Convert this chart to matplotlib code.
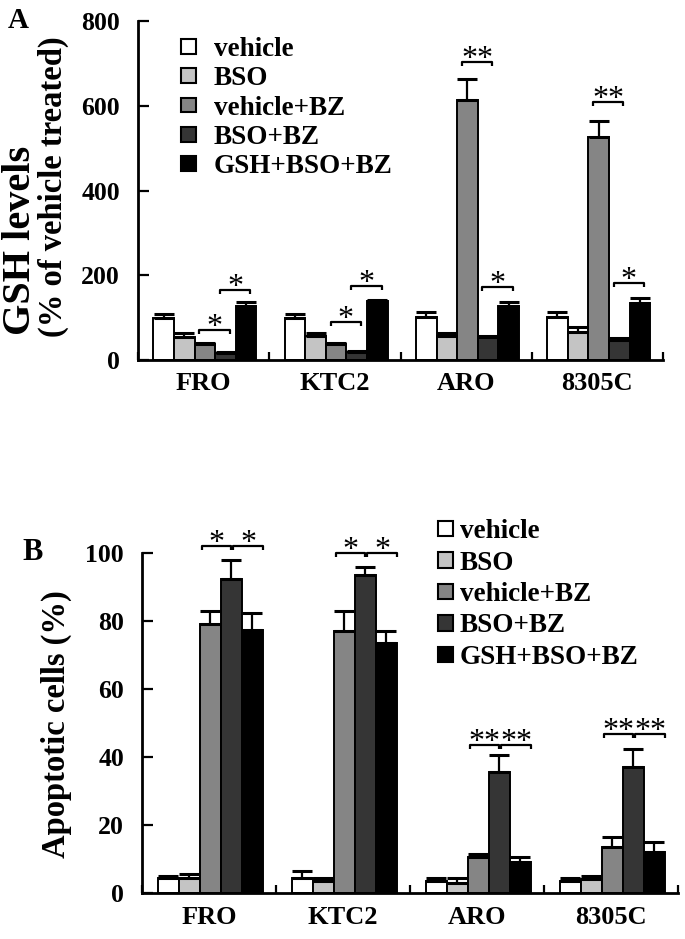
import matplotlib
matplotlib.use("Agg")
import matplotlib.pyplot as plt
from matplotlib.patches import Patch
import numpy as np

plt.rcParams['font.family'] = ['Liberation Serif', 'DejaVu Serif']
plt.rcParams['font.weight'] = 'bold'

# ---------------- data ----------------
cell_lines = ['FRO', 'KTC2', 'ARO', '8305C']
treatments = ['vehicle', 'BSO', 'vehicle+BZ', 'BSO+BZ', 'GSH+BSO+BZ']
colors = ['#ffffff', '#c4c4c4', '#858585', '#353535', '#000000']

# Panel A: GSH levels (% of vehicle treated)
gsh_vehicle = [100, 100, 101, 101]
gsh_vehicle_err = [8, 8, 12, 12]
gsh_bso = [54, 57, 57, 67]
gsh_bso_err = [10, 6, 7, 10]
gsh_vehbz = [38, 37, 613, 527]
gsh_vehbz_err = [3, 3, 50, 36]
gsh_bsobz = [16, 20, 54, 47]
gsh_bsobz_err = [2, 2, 2, 5]
gsh_gsh = [127, 139, 127, 135]
gsh_gsh_err = [10, 2, 10, 12]

# Panel B: apoptotic cells (%)
apo_vehicle = [4.5, 4.5, 3.5, 3.5]
apo_vehicle_err = [0.5, 2, 1, 1]
apo_bso = [4.5, 3.5, 3, 4]
apo_bso_err = [1, 1, 1.5, 1]
apo_vehbz = [79, 77, 10.5, 13.5]
apo_vehbz_err = [4, 6, 1, 3]
apo_bsobz = [92.5, 93.5, 35.5, 37]
apo_bsobz_err = [5.5, 2.5, 5, 5.5]
apo_gsh = [77.5, 73.5, 9, 12]
apo_gsh_err = [5, 3.5, 1.5, 3]

# significance brackets: (group, bar_i, bar_j, y, label)
sig_A = [(0, 2, 3, 71, '*'), (0, 3, 4, 165, '*'),
         (1, 2, 3, 90, '*'), (1, 3, 4, 175, '*'),
         (2, 2, 3, 703, '**'), (2, 3, 4, 173, '*'),
         (3, 2, 3, 608, '**'), (3, 3, 4, 181, '*')]
sig_B = [(0, 2, 3, 102, '*'), (0, 3, 4, 102, '*'),
         (1, 2, 3, 100, '*'), (1, 3, 4, 100, '*'),
         (2, 2, 3, 43.5, '**'), (2, 3, 4, 43.5, '**'),
         (3, 2, 3, 46.8, '**'), (3, 3, 4, 46.8, '**')]

A_vals = [gsh_vehicle, gsh_bso, gsh_vehbz, gsh_bsobz, gsh_gsh]
A_errs = [gsh_vehicle_err, gsh_bso_err, gsh_vehbz_err, gsh_bsobz_err, gsh_gsh_err]
B_vals = [apo_vehicle, apo_bso, apo_vehbz, apo_bsobz, apo_gsh]
B_errs = [apo_vehicle_err, apo_bso_err, apo_vehbz_err, apo_bsobz_err, apo_gsh_err]

# ---------------- figure ----------------
W, H = 685, 939
fig = plt.figure(figsize=(W / 100, H / 100), dpi=100)

def px_axes(l, r, b, t):
    return fig.add_axes([l / W, 1 - b / H, (r - l) / W, (b - t) / H])

axA = px_axes(138, 663, 360, 21)
axB = px_axes(142, 678, 893, 553)

BW = 0.157
OFF = 0.51

def bar_x(g, k):
    return g + OFF + (k - 2) * BW

def draw(ax, vals, errs, ymax, yticks, sig, bracket_mode):
    n = len(cell_lines)
    for k in range(len(treatments)):
        xs = [bar_x(g, k) for g in range(n)]
        ax.bar(xs, vals[k], width=BW, color=colors[k], edgecolor='black',
               linewidth=1.4, zorder=2, label=treatments[k])
        ax.errorbar(xs, vals[k], yerr=[np.zeros(n), errs[k]], fmt='none',
                    ecolor='black', elinewidth=1.6, capsize=7.2, capthick=2.2,
                    zorder=3)
    ax.set_xlim(0, n)
    ax.set_ylim(0, ymax)
    ax.set_yticks(yticks)
    ax.set_yticklabels([str(t) for t in yticks], fontsize=18.5, fontweight='bold')
    ax.set_xticks(np.arange(n + 1))
    ax.set_xticklabels([])
    ax.set_xticks(np.arange(n) + 0.5, minor=True)
    ax.set_xticklabels(cell_lines, minor=True, fontsize=19, fontweight='bold')
    ax.tick_params(axis='x', which='minor', length=0, pad=9)
    ax.tick_params(axis='x', which='major', direction='in', length=6, width=1.6)
    ax.tick_params(axis='y', direction='in', length=8, width=1.6, pad=13)
    for s in ['top', 'right']:
        ax.spines[s].set_visible(False)
    for s in ['left', 'bottom']:
        ax.spines[s].set_linewidth(2.0)
    d = ymax * 0.012
    for (g, i, j, y, lab) in sig:
        if bracket_mode == 'A':
            x0 = bar_x(g, i) - 0.27 * BW
            x1 = bar_x(g, j) + 0.2 * BW
        else:
            if i == 2:
                x0 = bar_x(g, i) - 0.42 * BW
                x1 = bar_x(g, j) - 0.02 * BW
            else:
                x0 = bar_x(g, i) + 0.1 * BW
                x1 = bar_x(g, j) + 0.5 * BW
        ax.plot([x0, x0, x1, x1], [y - d, y, y, y - d], color='black',
                lw=1.6, clip_on=False, zorder=4, solid_capstyle='butt')
        ax.annotate(lab, ((x0 + x1) / 2, y), xytext=(0, -3.5),
                    textcoords='offset points', ha='center', va='baseline',
                    fontsize=23, fontweight='normal', annotation_clip=False)

draw(axA, A_vals, A_errs, 800, [0, 200, 400, 600, 800], sig_A, 'A')
draw(axB, B_vals, B_errs, 100, [0, 20, 40, 60, 80, 100], sig_B, 'B')

handles = [Patch(facecolor=c, edgecolor='black', linewidth=1.5) for c in colors]

legA = axA.legend(handles, treatments, loc='upper left',
                  bbox_to_anchor=(181 / W, 1 - 37 / H), bbox_transform=fig.transFigure,
                  frameon=False, handlelength=0.55, handleheight=0.45,
                  handletextpad=0.65, labelspacing=0.16, borderpad=0, borderaxespad=0,
                  prop={'weight': 'bold', 'size': 19.5})

legB = axB.legend(handles, treatments, loc='upper left',
                  bbox_to_anchor=(438 / W, 1 - 519 / H), bbox_transform=fig.transFigure,
                  frameon=False, handlelength=0.55, handleheight=0.5,
                  handletextpad=0.25, labelspacing=0.24, borderpad=0, borderaxespad=0,
                  prop={'weight': 'bold', 'size': 19.5})

# y labels
fig.text(21 / W, 1 - 335 / H, 'GSH levels', rotation=90, ha='center', va='bottom',
         fontsize=29, fontweight='bold')
fig.text(53 / W, 1 - 337 / H, '(% of vehicle treated)', rotation=90, ha='center',
         va='bottom', fontsize=23.5, fontweight='bold')
fig.text(56 / W, 1 - 724 / H, 'Apoptotic cells (%)', rotation=90, ha='center',
         va='center', fontsize=23.5, fontweight='bold')

# panel letters
fig.text(18 / W, 1 - 21 / H, 'A', ha='center', va='center', fontsize=21, fontweight='bold')
fig.text(33 / W, 1 - 553 / H, 'B', ha='center', va='center', fontsize=22, fontweight='bold')

fig.savefig('out.png', dpi=100)
